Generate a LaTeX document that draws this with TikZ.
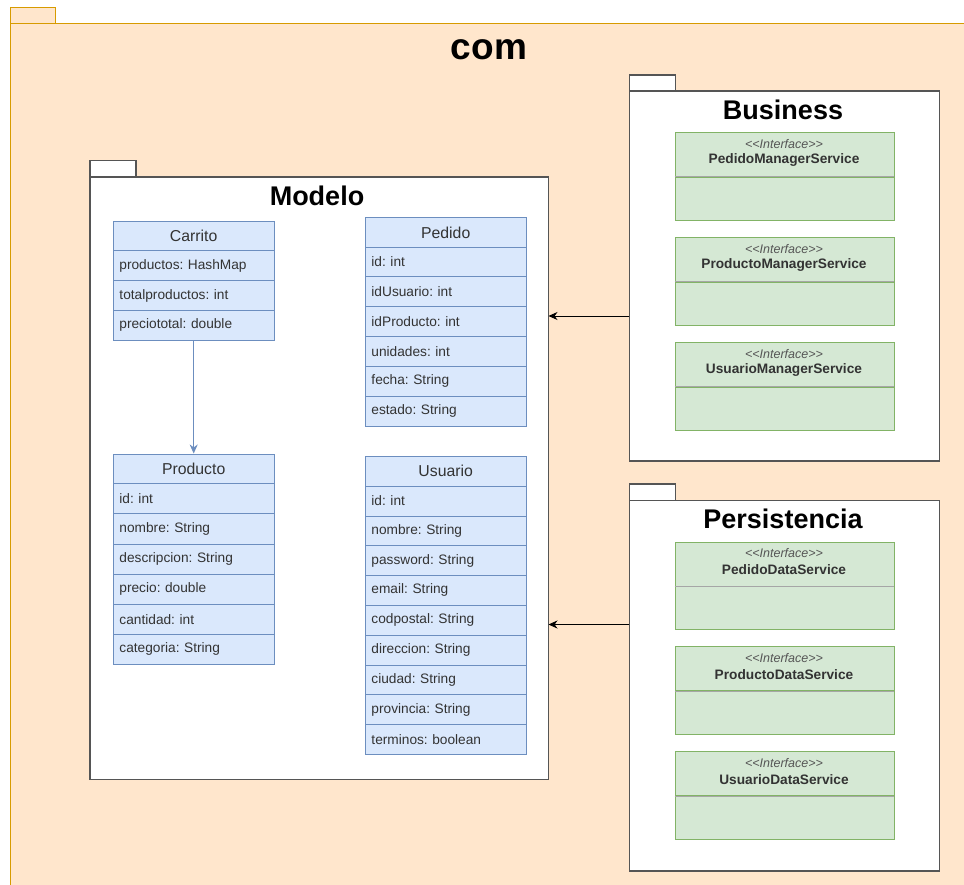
\documentclass[tikz,border=0pt]{standalone}
\usepackage{fontspec}
\setmainfont{Liberation Sans}
\usetikzlibrary{arrows.meta}

\definecolor{pkgfill}{HTML}{FFE6CC}
\definecolor{pkgline}{HTML}{D79B00}
\definecolor{clsfill}{HTML}{DAE8FC}
\definecolor{clsline}{HTML}{6C8EBF}
\definecolor{iffill}{HTML}{D5E8D4}
\definecolor{ifline}{HTML}{82B366}
\definecolor{divline}{HTML}{A6A6A6}
\definecolor{boxline}{HTML}{555555}
\definecolor{txt}{HTML}{333333}
\definecolor{stereo}{HTML}{555555}

\newcommand\pxfont[1]{\fontsize{#1}{#1}\selectfont}
\frenchspacing

% UML class: name, x, y, header height, row height, title, attribute list
\newcommand\umlclass[7]{%
  \node[clshead, minimum height=#4pt] (#1) at (#2,#3) {#6};
  \foreach \r [count=\i] in {#7} {
    \node[clsrow, minimum height=#5pt] (#1-\i) at (#2,{#3+#4+(\i-1)*#5}) {\r};
  }
}

% UML interface: name, top y, interface name
\newcommand\umliface[3]{%
  \node[ifhead] (#1) at (674.5,#2) {};
  \node[ifbody] (#1-body) at (#1.south west) {};
  \draw[divline, line width=1pt] (#1.south west) -- (#1.south east);
  \node[stereotext] (#1-st) at (784,{#2+12}) {<\kern0pt<Interface>\kern0pt>};
  \node[ifname] (#1-nm) at (784,{#2+28}) {#3};
}

\begin{document}
\begin{tikzpicture}[x=1pt,y=-1pt,
  pkgouter/.style={draw=pkgline, fill=pkgfill, line width=1pt},
  pkgbody/.style={draw=boxline, fill=white, line width=1.2pt},
  pkgtitle/.style={font=\bfseries\pxfont{27}, text=black, inner sep=0pt},
  clshead/.style={draw=clsline, fill=clsfill, line width=0.9pt, anchor=north west,
    inner sep=0pt, minimum width=160.5pt, font=\pxfont{15.8}, text=txt},
  clsrow/.style={draw=clsline, fill=clsfill, line width=0.9pt, anchor=north west,
    inner xsep=6pt, inner ysep=0pt, text width=148.5pt, align=left,
    font=\pxfont{13.7}, text=txt},
  ifhead/.style={draw=ifline, fill=iffill, line width=0.9pt, anchor=north west,
    inner sep=0pt, minimum width=219pt, minimum height=44pt},
  ifbody/.style={draw=ifline, fill=iffill, line width=0.9pt, anchor=north west,
    inner sep=0pt, minimum width=219pt, minimum height=43pt},
  stereotext/.style={font=\itshape\pxfont{12.5}, text=stereo, inner sep=0pt},
  ifname/.style={font=\bfseries\pxfont{13.7}, text=txt, inner sep=0pt},
  assoc/.style={draw=black, line width=0.8pt, -{Stealth[length=9pt,width=8pt]}},
  inherit/.style={draw=clsline, line width=0.9pt, -{Stealth[length=9pt,width=8pt]}}
]
\useasboundingbox (0,0) rectangle (964,885);

% package com
\draw[pkgouter] (10,8) rectangle (55.5,24);
\draw[pkgouter] (10,24) rectangle (975,895);
\node[font=\bfseries\pxfont{37}, inner sep=0pt] (comtitle) at (489,50) {com};

% package Modelo
\draw[pkgbody] (90,160.5) rectangle (136,177);
\draw[pkgbody] (90,177) rectangle (548.5,779.5);
\coordinate (modeloR1) at (548.5,316);
\coordinate (modeloR2) at (548.5,624.5);
\node[pkgtitle] (modelotitle) at (317,196) {Modelo};

\umlclass{carrito}{113}{221}{29.5}{29.7}{Carrito}%
  {productos: HashMap, totalproductos: int, preciototal: double}
\umlclass{pedido}{365}{217.3}{29.4}{29.8}{Pedido}%
  {id: int, idUsuario: int, idProducto: int, unidades: int, fecha: String, estado: String}
\umlclass{producto}{113}{453.5}{29.8}{30.1}{Producto}%
  {id: int, nombre: String, descripcion: String, precio: double, cantidad: int, categoria: String}
\umlclass{usuario}{365}{455.7}{30}{29.8}{Usuario}%
  {id: int, nombre: String, password: String, email: String, codpostal: String,
   direccion: String, ciudad: String, provincia: String, terminos: boolean}

\draw[inherit] (carrito-3.south) -- (producto.north);

% package Business
\draw[pkgbody] (629.3,75) rectangle (675.3,91);
\draw[pkgbody] (629.3,91) rectangle (939.3,461);
\coordinate (busL) at (629.3,316);
\node[pkgtitle] (bustitle) at (783,110) {Business};
\umliface{pms}{132}{PedidoManagerService}
\umliface{prms}{236.8}{ProductoManagerService}
\umliface{ums}{342}{UsuarioManagerService}

% package Persistencia
\draw[pkgbody] (629.3,484) rectangle (675.3,500.3);
\draw[pkgbody] (629.3,500.3) rectangle (939.3,871);
\coordinate (perL) at (629.3,624.5);
\node[pkgtitle] (pertitle) at (783,519) {Persistencia};
\umliface{pds}{541.5}{PedidoDataService}
\umliface{prds}{646.3}{ProductoDataService}
\umliface{uds}{751.3}{UsuarioDataService}

% dependencies on the model
\draw[assoc] (busL) -- (modeloR1);
\draw[assoc] (perL) -- (modeloR2);
\end{tikzpicture}
\end{document}
